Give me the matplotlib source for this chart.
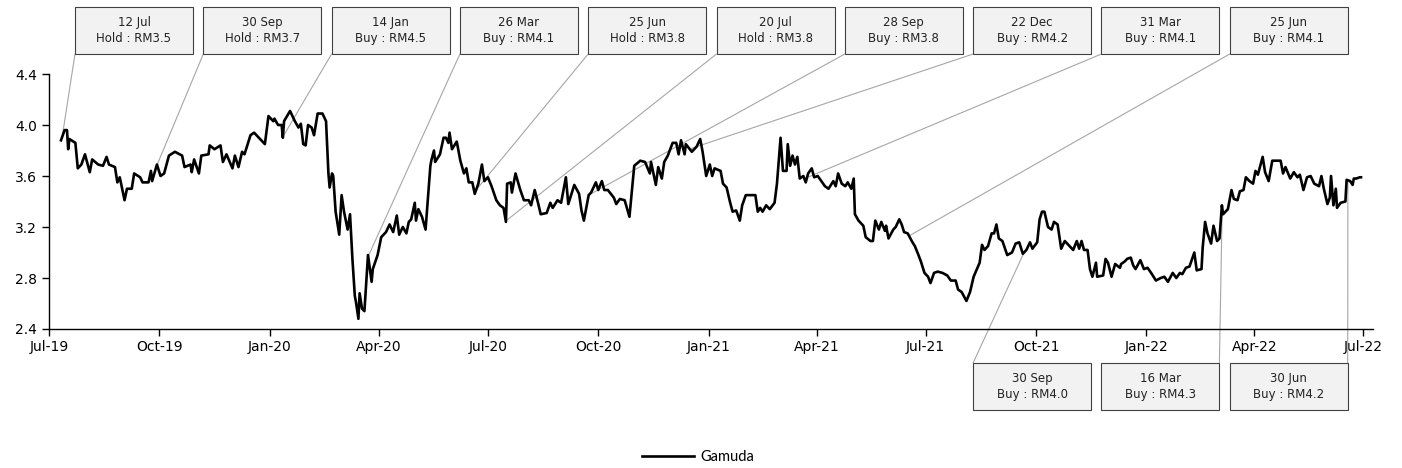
import matplotlib
matplotlib.use("Agg")
import matplotlib.pyplot as plt
import matplotlib.dates as mdates
import matplotlib.patches as mpatches
import numpy as np
import pandas as pd

# price series (days after 1 Jul 2019, RM)
start_date = "2019-07-01"
day_offset = [
    10, 13, 15, 16, 17, 22, 24, 27, 30, 34, 36, 41, 45, 48, 50, 55, 57, 59, 63, 65,
    69, 71, 76, 78, 83, 85, 86, 90, 93, 96, 100, 105, 111, 113, 118, 119, 121, 125, 127, 133,
    134, 138, 143, 145, 148, 153, 155, 158, 161, 163, 168, 171, 175, 180, 183, 187, 188, 191, 194, 195,
    196, 201, 205, 208, 210, 212, 214, 216, 219, 221, 224, 228, 231, 233, 234, 236, 237, 239, 242, 244,
    246, 249, 251, 253, 255, 256, 258, 259, 261, 263, 266, 269, 270, 274, 277, 281, 284, 287, 290, 292,
    295, 298, 300, 302, 305, 306, 308, 311, 314, 318, 319, 321, 322, 326, 329, 331, 333, 334, 336, 340,
    343, 346, 348, 350, 353, 355, 358, 361, 363, 366, 369, 373, 376, 379, 381, 382, 385, 386, 389, 393,
    396, 400, 402, 405, 408, 410, 415, 418, 420, 424, 427, 430, 431, 433, 438, 442, 444, 446, 450, 452,
    456, 458, 461, 463, 466, 471, 473, 476, 480, 484, 488, 493, 497, 501, 502, 506, 508, 511, 513, 516,
    520, 523, 525, 527, 530, 531, 536, 540, 543, 545, 548, 551, 553, 555, 560, 562, 565, 568, 570, 573,
    576, 578, 581, 586, 589, 591, 593, 595, 598, 601, 605, 607, 610, 612, 615, 616, 618, 620, 622, 624,
    626, 629, 631, 633, 636, 638, 641, 644, 647, 650, 654, 656, 658, 661, 664, 666, 669, 671, 672, 675,
    679, 681, 685, 687, 689, 692, 694, 697, 698, 700, 704, 706, 709, 711, 713, 716, 720, 722, 725, 727,
    730, 733, 735, 738, 741, 745, 749, 752, 756, 758, 761, 765, 768, 771, 776, 778, 780, 783, 786, 788,
    790, 792, 795, 799, 803, 806, 809, 812, 815, 818, 820, 824, 826, 828, 830, 833, 836, 838, 841, 844,
    847, 851, 854, 857, 859, 861, 863, 866, 868, 870, 873, 874, 879, 881, 883, 886, 889, 893, 894, 897,
    899, 902, 904, 906, 910, 913, 916, 919, 923, 927, 930, 933, 937, 940, 943, 945, 948, 951, 955, 957,
    961, 962, 964, 966, 969, 971, 974, 976, 978, 979, 983, 986, 988, 991, 993, 996, 998, 1001, 1004, 1006,
    1008, 1012, 1014, 1017, 1020, 1023, 1027, 1029, 1031, 1035, 1038, 1041, 1043, 1046, 1049, 1052, 1055, 1059, 1061, 1063,
    1066, 1068, 1069, 1071, 1073, 1074, 1077, 1081, 1082, 1085, 1087, 1088, 1090, 1093, 1094,
]
price = [
    3.88, 3.96, 3.96, 3.81, 3.89, 3.86, 3.66, 3.69, 3.77, 3.63, 3.73, 3.69, 3.68, 3.75, 3.69, 3.67, 3.55, 3.59, 3.41, 3.50,
    3.50, 3.62, 3.59, 3.55, 3.55, 3.64, 3.56, 3.69, 3.60, 3.62, 3.76, 3.79, 3.76, 3.67, 3.69, 3.63, 3.73, 3.62, 3.76, 3.77,
    3.84, 3.81, 3.84, 3.71, 3.77, 3.66, 3.76, 3.67, 3.79, 3.77, 3.92, 3.94, 3.90, 3.85, 4.07, 4.03, 4.05, 4.00, 4.00, 3.90,
    4.03, 4.11, 4.03, 3.98, 4.01, 3.85, 3.84, 4.00, 3.98, 3.92, 4.09, 4.09, 4.03, 3.62, 3.51, 3.62, 3.60, 3.32, 3.14, 3.45,
    3.32, 3.18, 3.30, 2.95, 2.66, 2.61, 2.48, 2.68, 2.56, 2.54, 2.98, 2.77, 2.87, 2.98, 3.12, 3.16, 3.22, 3.16, 3.29, 3.14,
    3.20, 3.15, 3.24, 3.26, 3.39, 3.25, 3.34, 3.28, 3.18, 3.68, 3.73, 3.80, 3.71, 3.77, 3.90, 3.90, 3.86, 3.94, 3.81, 3.87,
    3.72, 3.62, 3.66, 3.55, 3.55, 3.46, 3.54, 3.69, 3.56, 3.59, 3.52, 3.41, 3.37, 3.35, 3.24, 3.54, 3.55, 3.47, 3.62, 3.49,
    3.41, 3.41, 3.37, 3.49, 3.38, 3.30, 3.31, 3.39, 3.35, 3.41, 3.39, 3.54, 3.59, 3.38, 3.53, 3.46, 3.33, 3.25, 3.45, 3.47,
    3.55, 3.49, 3.56, 3.49, 3.49, 3.43, 3.38, 3.42, 3.41, 3.28, 3.68, 3.72, 3.71, 3.62, 3.71, 3.53, 3.67, 3.58, 3.71, 3.76,
    3.86, 3.86, 3.77, 3.88, 3.77, 3.85, 3.79, 3.83, 3.89, 3.79, 3.60, 3.69, 3.60, 3.66, 3.64, 3.54, 3.51, 3.39, 3.32, 3.33,
    3.25, 3.37, 3.45, 3.45, 3.45, 3.32, 3.35, 3.32, 3.37, 3.34, 3.39, 3.54, 3.90, 3.64, 3.64, 3.85, 3.68, 3.76, 3.69, 3.75,
    3.58, 3.60, 3.55, 3.62, 3.66, 3.59, 3.60, 3.56, 3.52, 3.50, 3.56, 3.52, 3.62, 3.54, 3.52, 3.55, 3.50, 3.58, 3.30, 3.25,
    3.21, 3.12, 3.09, 3.09, 3.25, 3.18, 3.24, 3.17, 3.21, 3.11, 3.18, 3.20, 3.26, 3.22, 3.16, 3.15, 3.08, 3.05, 2.98, 2.93,
    2.84, 2.81, 2.76, 2.84, 2.85, 2.84, 2.82, 2.78, 2.78, 2.71, 2.69, 2.62, 2.69, 2.81, 2.92, 3.06, 3.02, 3.05, 3.15, 3.15,
    3.22, 3.11, 3.09, 2.98, 3.00, 3.07, 3.08, 2.99, 3.02, 3.08, 3.03, 3.08, 3.26, 3.32, 3.32, 3.20, 3.18, 3.24, 3.22, 3.03,
    3.09, 3.05, 3.02, 3.09, 3.03, 3.09, 3.02, 3.02, 2.87, 2.81, 2.92, 2.81, 2.82, 2.95, 2.92, 2.81, 2.91, 2.88, 2.91, 2.93,
    2.95, 2.96, 2.90, 2.87, 2.94, 2.87, 2.88, 2.84, 2.78, 2.80, 2.81, 2.77, 2.84, 2.80, 2.84, 2.83, 2.88, 2.89, 3.00, 2.86,
    2.87, 3.04, 3.24, 3.15, 3.07, 3.21, 3.09, 3.11, 3.37, 3.30, 3.34, 3.49, 3.42, 3.41, 3.48, 3.49, 3.59, 3.56, 3.54, 3.64,
    3.61, 3.75, 3.63, 3.56, 3.72, 3.72, 3.72, 3.62, 3.67, 3.58, 3.63, 3.59, 3.61, 3.49, 3.59, 3.60, 3.54, 3.52, 3.60, 3.50,
    3.38, 3.43, 3.60, 3.37, 3.50, 3.35, 3.39, 3.40, 3.57, 3.56, 3.53, 3.58, 3.58, 3.59, 3.59,
]

# analyst calls
ann_dates = ["2019-07-12", "2019-09-30", "2020-01-14", "2020-03-26", "2020-06-25", "2020-07-20",
             "2020-09-28", "2020-12-22", "2021-03-31", "2021-06-25", "2021-09-30", "2022-03-16",
             "2022-06-30"]
ann_calls = ["Hold", "Hold", "Buy", "Buy", "Hold", "Hold", "Buy", "Buy", "Buy", "Buy", "Buy", "Buy", "Buy"]
ann_targets = [3.5, 3.7, 4.5, 4.1, 3.8, 3.8, 3.8, 4.2, 4.1, 4.1, 4.0, 4.3, 4.2]

dates = pd.Timestamp(start_date) + pd.to_timedelta(day_offset, unit="D")

W, H = 1402, 468
fig = plt.figure(figsize=(W / 100, H / 100), dpi=100)
ax = fig.add_axes([49 / W, 1 - 329 / H, (1373 - 49) / W, (329 - 74) / H])

ax.plot(dates, price, color="black", lw=1.9, zorder=3, label="Gamuda")

ax.set_xlim(pd.Timestamp("2019-07-01"), pd.Timestamp("2022-07-09"))
ax.set_ylim(2.4, 4.4)
ax.set_yticks(np.arange(2.4, 4.41, 0.4))
ax.yaxis.set_major_formatter(matplotlib.ticker.FormatStrFormatter("%.1f"))
ax.xaxis.set_major_locator(mdates.MonthLocator(bymonth=[1, 4, 7, 10]))
ax.xaxis.set_major_formatter(mdates.DateFormatter("%b-%y"))
for s in ["top", "right"]:
    ax.spines[s].set_visible(False)
for s in ["left", "bottom"]:
    ax.spines[s].set_linewidth(1.0)
ax.tick_params(axis="both", labelsize=10, length=5, width=1, direction="out")
ax.tick_params(axis="x", pad=3)

# label boxes: 10 slots along the top, 3 along the bottom (under the last 3 top slots)
box_w, box_h = 118, 47
slot_x = [75 + 128.3 * i for i in range(10)]
top_y = 7            # image px from top
bot_y = 363

# the source chart plots its line slightly compressed against its date ticks;
# map call dates onto the plotted series the same way
first_day = day_offset[0]
squeeze = 0.989

date_num = mdates.date2num(dates)
fig.canvas.draw()
for i, (d, c, t) in enumerate(zip(ann_dates, ann_calls, ann_targets)):
    dt = pd.Timestamp(d)
    true_day = (dt - pd.Timestamp(start_date)).days
    pos_day = first_day + (true_day - first_day) * squeeze
    xnum = mdates.date2num(pd.Timestamp(start_date)) + pos_day
    val = np.interp(xnum, date_num, price)
    if i < 10:
        x0, y_top = slot_x[i], top_y
    else:
        x0, y_top = slot_x[i - 3], bot_y
    # figure px, origin bottom-left
    fy0 = H - (y_top + box_h)
    rect = mpatches.Rectangle((x0 / W, fy0 / H), box_w / W, box_h / H,
                              transform=fig.transFigure, facecolor="#f2f2f2",
                              edgecolor="#404040", lw=0.8, zorder=5)
    fig.add_artist(rect)
    fig.text((x0 + box_w / 2) / W, (fy0 + box_h / 2) / H,
             f"{dt.strftime('%d %b')}\n{c} : RM{t:.1f}",
             ha="center", va="center", fontsize=8.5, color="#222222",
             linespacing=1.25, zorder=6)

    px, _ = ax.transData.transform((xnum, val))
    cx = x0 + box_w if px > x0 + box_w - 3 else x0
    cy = fy0 if i < 10 else fy0 + box_h
    ax.annotate("", xy=(xnum, val), xycoords="data",
                xytext=(cx / W, cy / H), textcoords="figure fraction",
                arrowprops=dict(arrowstyle="-", color="#a6a6a6", lw=0.8,
                                shrinkA=0, shrinkB=0),
                annotation_clip=False, zorder=2)

fig.legend(loc="center", bbox_to_anchor=(698 / W, 1 - 457 / H), frameon=False,
           handlelength=3.6, handletextpad=0.4, prop={"family": "Lato", "size": 10.5})

fig.savefig("out.png", dpi=100)
